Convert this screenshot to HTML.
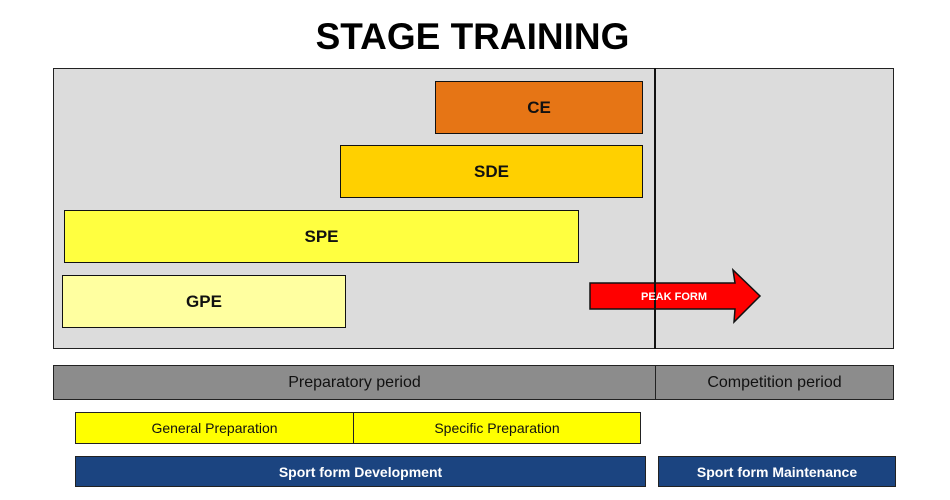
<!DOCTYPE html>
<html><head><meta charset="utf-8"><style>
body{margin:0;width:950px;height:500px;background:#fff;position:relative;overflow:hidden;font-family:"Liberation Sans",Arial,sans-serif}
.a{position:absolute;box-sizing:border-box;display:flex;align-items:center;justify-content:center}
.b{border:1.5px solid #111;font-weight:bold;font-size:17px;color:#111}
</style></head><body>
<div class="a" style="left:250px;top:14px;width:445px;height:46px;font-size:37px;font-weight:bold;color:#000">STAGE TRAINING</div>
<div class="a" style="left:53px;top:68px;width:841px;height:281px;background:#dcdcdc;border:1.5px solid #222"></div>
<div class="a" style="left:654px;top:68px;width:2px;height:281px;background:#111"></div>
<div class="a b" style="left:435px;top:81px;width:208px;height:53px;background:#e67515">CE</div>
<div class="a b" style="left:340px;top:145px;width:303px;height:53px;background:#ffd000">SDE</div>
<div class="a b" style="left:64px;top:210px;width:515px;height:53px;background:#ffff40">SPE</div>
<div class="a b" style="left:62px;top:275px;width:284px;height:53px;background:#ffffa0">GPE</div>
<svg style="position:absolute;left:0;top:0" width="950" height="500"><polygon points="590,283 735,283 733,270 760,296 734,322 735,309 590,309" fill="#ff0000" stroke="#111" stroke-width="1.5"/><line x1="655" y1="270" x2="655" y2="322" stroke="#111" stroke-width="2"/><text x="674" y="300" font-family="Liberation Sans,Arial,sans-serif" font-weight="bold" font-size="11" fill="#fff" text-anchor="middle">PEAK FORM</text></svg>
<div class="a" style="left:53px;top:365px;width:603px;height:35px;background:#8c8c8c;border:1.5px solid #222;font-size:16px;color:#111">Preparatory period</div>
<div class="a" style="left:655px;top:365px;width:239px;height:35px;background:#8c8c8c;border:1.5px solid #222;font-size:16px;color:#111">Competition period</div>
<div class="a" style="left:75px;top:412px;width:279px;height:32px;background:#ffff00;border:1.5px solid #222;font-size:14px;color:#111">General Preparation</div>
<div class="a" style="left:353px;top:412px;width:288px;height:32px;background:#ffff00;border:1.5px solid #222;font-size:14px;color:#111">Specific Preparation</div>
<div class="a" style="left:75px;top:456px;width:571px;height:31px;background:#1b4480;border:1.5px solid #222;font-size:14px;font-weight:bold;color:#fff">Sport form Development</div>
<div class="a" style="left:658px;top:456px;width:238px;height:31px;background:#1b4480;border:1.5px solid #222;font-size:14px;font-weight:bold;color:#fff">Sport form Maintenance</div>
</body></html>
